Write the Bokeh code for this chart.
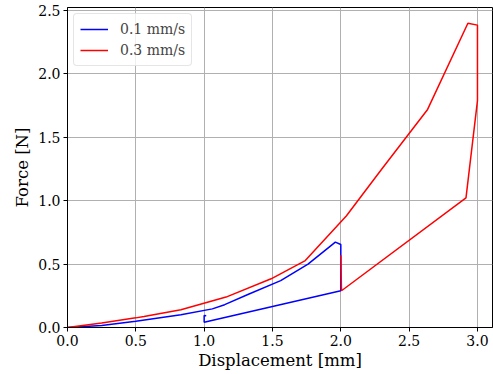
from bokeh.plotting import figure
from bokeh.models import FixedTicker, Range1d, NumeralTickFormatter
from bokeh.embed import file_html
from bokeh.resources import INLINE

# 0.1 mm/s series
disp_01 = [0.0, 0.25, 0.5, 0.83, 1.06, 1.15, 1.32, 1.56, 1.76, 1.96, 2.0,
           2.0, 1.0, 1.0, 1.015]
force_01 = [0.0, 0.015, 0.05, 0.10, 0.147, 0.18, 0.26, 0.37, 0.50, 0.673, 0.655,
            0.29, 0.042, 0.095, 0.093]

# 0.3 mm/s series
disp_03 = [0.0, 0.25, 0.5, 0.56, 0.83, 1.05, 1.16, 1.49, 1.74, 2.04, 2.3, 2.635,
           2.93, 3.0, 3.0, 2.916, 2.005, 2.0]
force_03 = [0.0, 0.035, 0.076, 0.087, 0.14, 0.207, 0.24, 0.384, 0.528, 0.88, 1.25, 1.72,
            2.40, 2.385, 1.79, 1.023, 0.29, 0.57]

x_ticks = [0.0, 0.5, 1.0, 1.5, 2.0, 2.5, 3.0]
y_ticks = [0.0, 0.5, 1.0, 1.5, 2.0, 2.5]

FONT = "'DejaVu Serif', serif"

p = figure(width=493, height=373, output_backend="svg", toolbar_location=None,
           x_range=Range1d(0, 3.11), y_range=Range1d(0, 2.524),
           min_border_left=67, min_border_right=1, min_border_top=7, min_border_bottom=46)

p.line(disp_01, force_01, line_color="blue", line_width=1.5, legend_label="0.1 mm/s")
p.line(disp_03, force_03, line_color="red", line_width=1.5, legend_label="0.3 mm/s")

p.outline_line_color = "black"
p.outline_line_width = 1
p.outline_line_alpha = 1

for ax, ticks in ((p.xaxis[0], x_ticks), (p.yaxis[0], y_ticks)):
    ax.ticker = FixedTicker(ticks=ticks)
    ax.formatter = NumeralTickFormatter(format="0.0")
    ax.major_label_text_font = FONT
    ax.major_label_text_font_size = "14px"
    ax.major_label_text_color = "black"
    ax.axis_label_text_font = FONT
    ax.axis_label_text_font_size = "16.5px"
    ax.axis_label_text_font_style = "normal"
    ax.axis_label_text_color = "black"
    ax.minor_tick_line_color = None
    ax.major_tick_out = 4
    ax.major_tick_in = 0
    ax.major_tick_line_color = "black"
    ax.axis_line_color = "black"
    ax.major_label_standoff = 3

p.xaxis.axis_label = "Displacement [mm]"
p.yaxis.axis_label = "Force [N]"
p.xaxis.axis_label_standoff = 2
p.yaxis.axis_label_standoff = 3

p.grid.grid_line_color = "#b0b0b0"
p.grid.grid_line_width = 1
p.xgrid.ticker = FixedTicker(ticks=x_ticks)
p.ygrid.ticker = FixedTicker(ticks=y_ticks)

lg = p.legend[0]
lg.location = "top_left"
lg.margin = 6
lg.padding = 6
lg.spacing = 3
lg.label_height = 18
lg.glyph_height = 18
lg.glyph_width = 28
lg.label_standoff = 12
lg.label_text_font = FONT
lg.label_text_font_size = "14px"
lg.border_line_color = "#cccccc"
lg.border_line_width = 1
lg.background_fill_alpha = 0.8
try:
    lg.border_radius = 4
except Exception:
    pass

open("out.html", "w").write(file_html(p, INLINE))
